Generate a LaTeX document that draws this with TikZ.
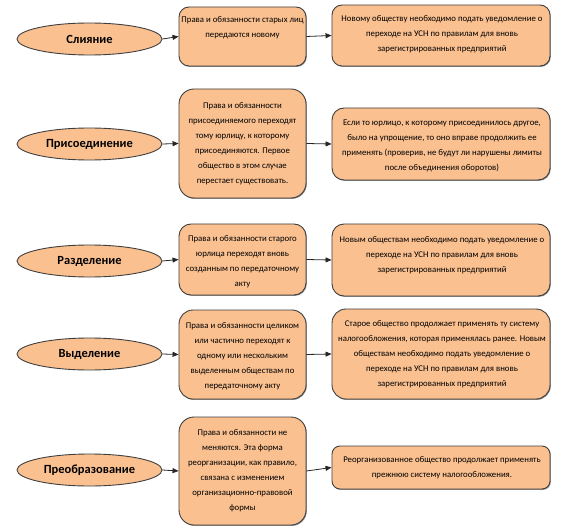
\documentclass[tikz,border=0pt]{standalone}
\usepackage{fontspec}
\setmainfont{Carlito}
\usetikzlibrary{shapes.geometric,arrows.meta,shadows}
\definecolor{peach}{HTML}{FAC090}
\definecolor{edgegray}{HTML}{3F3F3F}
\begin{document}
\begin{tikzpicture}[x=1bp,y=-1bp,
  proc/.style={ellipse, draw=edgegray, line width=0.9bp, fill=peach,
    minimum width=145bp, minimum height=32bp, inner sep=0pt,
    font=\bfseries\fontsize{12.5}{14}\selectfont},
  stepbox/.style={rectangle, draw=edgegray, line width=0.9bp, fill=peach, inner sep=0pt,
    drop shadow={shadow xshift=0.8bp, shadow yshift=-0.9bp, opacity=0.45, fill=black}},
  txt/.style={align=center, inner sep=0pt, font=\fontsize{8.8}{15}\selectfont},
  arr/.style={draw=black!85, line width=0.8bp, -{Triangle[length=6bp,width=5bp]}}
]
\useasboundingbox (0,0) rectangle (586,528);

% ---- ellipses
\node[proc] (e1) at (89.5,39)  {Слияние};
\node[proc] (e2) at (89.5,144) {Присоединение};
\node[proc] (e3) at (89.5,261) {Разделение};
\node[proc] (e4) at (89.5,354) {Выделение};
\node[proc] (e5) at (89.5,470) {Преобразование};

% ---- first column boxes (x 179--306)
\node[stepbox, rounded corners=10bp, minimum width=127bp, minimum height=59bp]  (a1) at (242.5,36.5)  {};
\node[stepbox, rounded corners=15bp, minimum width=127bp, minimum height=109bp] (a2) at (242.5,143.5) {};
\node[stepbox, rounded corners=12bp, minimum width=127bp, minimum height=71bp]  (a3) at (242.5,259.5) {};
\node[stepbox, rounded corners=14bp, minimum width=127bp, minimum height=89bp]  (a4) at (242.5,354.5) {};
\node[stepbox, rounded corners=15bp, minimum width=127bp, minimum height=108bp] (a5) at (242.5,471)   {};

% ---- second column boxes (x 332--550)
\node[stepbox, rounded corners=10bp, minimum width=218bp, minimum height=61bp] (b1) at (441,35.5)  {};
\node[stepbox, rounded corners=12bp, minimum width=218bp, minimum height=72bp] (b2) at (441,144)   {};
\node[stepbox, rounded corners=12bp, minimum width=218bp, minimum height=72bp] (b3) at (441,260)   {};
\node[stepbox, rounded corners=14bp, minimum width=218bp, minimum height=90bp] (b4) at (441,354)   {};
\node[stepbox, rounded corners=8bp,  minimum width=218bp, minimum height=43bp] (b5) at (441,467.5) {};

% ---- texts
\node[txt] (ta1) at (242.5,27.5) {Права и обязанности старых лиц\\передаются новому};
\node[txt] (tb1) at (442,34) {Новому обществу необходимо подать уведомление о\\переходе на УСН по правилам для вновь\\зарегистрированных предприятий};
\node[txt] (ta2) at (242.5,144) {Права и обязанности\\присоединяемого переходят\\тому юрлицу, к которому\\присоединяются. Первое\\общество в этом случае\\перестает существовать.};
\node[txt] (tb2) at (442,146) {Если то юрлицо, к которому присоединилось другое,\\было на упрощение, то оно вправе продолжить ее\\применять (проверив, не будут ли нарушены лимиты\\после объединения оборотов)};
\node[txt] (ta3) at (242.5,261.5) {Права и обязанности старого\\юрлица переходят вновь\\созданным по передаточному\\акту};
\node[txt] (tb3) at (442,255) {Новым обществам необходимо подать уведомление о\\переходе на УСН по правилам для вновь\\зарегистрированных предприятий};
\node[txt] (ta4) at (242.5,356) {Права и обязанности целиком\\или частично переходят к\\одному или нескольким\\выделенным обществам по\\передаточному акту};
\node[txt] (tb4) at (442,354) {Старое общество продолжает применять ту систему\\налогообложения, которая применялась ранее. Новым\\обществам необходимо подать уведомление о\\переходе на УСН по правилам для вновь\\зарегистрированных предприятий};
\node[txt] (ta5) at (242.5,471) {Права и обязанности не\\меняются. Эта форма\\реорганизации, как правило,\\связана с изменением\\организационно-правовой\\формы};
\node[txt] (tb5) at (442,468) {Реорганизованное общество продолжает применять\\прежнюю систему налогообложения.};

% ---- connectors
\foreach \i in {1,...,5} {
  \draw[arr] (e\i.east) -- (a\i.west);
  \draw[arr] (a\i.east) -- (b\i.west);
}
\end{tikzpicture}
\end{document}
